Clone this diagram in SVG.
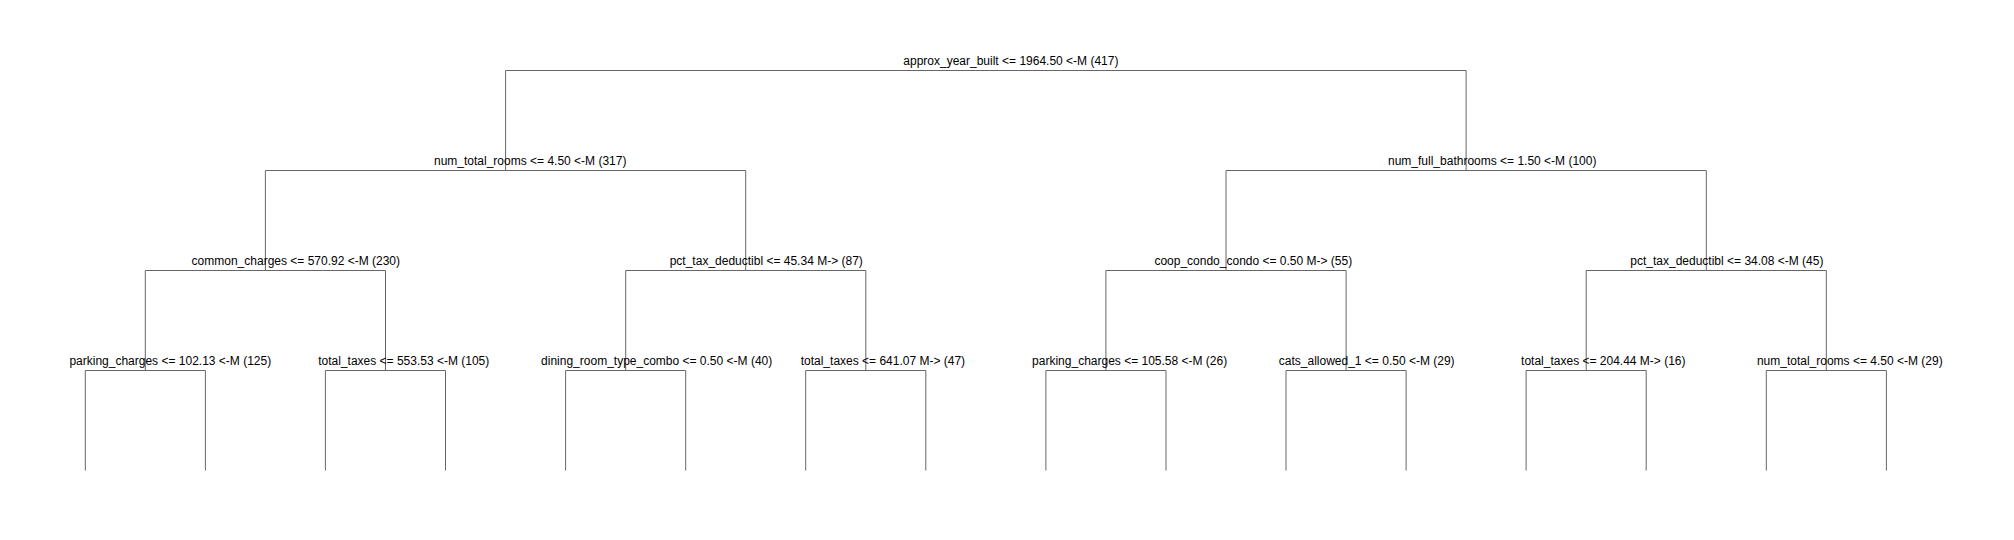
<svg xmlns="http://www.w3.org/2000/svg" width="2014" height="540" viewBox="0 0 2014 540">
<style>
.e{fill:none;stroke:#666;stroke-width:1}
.l{font-family:"Liberation Sans",Arial,sans-serif;font-size:12px;fill:#000}
</style>
<rect width="2014" height="540" fill="#fff"/>
<g id="connectors" class="e">
<path d="M505.6,70.5H1466.1"/>
<path d="M505.6,70.5V170.5M265.4,170.5H745.7"/>
<path d="M1466.1,70.5V170.5M1226,170.5H1706.3"/>
<path d="M265.4,170.5V270.5M145.3,270.5H385.5"/>
<path d="M745.7,170.5V270.5M625.7,270.5H865.8"/>
<path d="M1226,170.5V270.5M1105.9,270.5H1346.1"/>
<path d="M1706.3,170.5V270.5M1586.2,270.5H1826.3"/>
<path d="M145.3,270.5V370.5M85.3,370.5H205.4"/>
<path d="M385.5,270.5V370.5M325.4,370.5H445.5"/>
<path d="M625.7,270.5V370.5M565.6,370.5H685.7"/>
<path d="M865.8,270.5V370.5M805.7,370.5H925.8"/>
<path d="M1105.9,270.5V370.5M1045.9,370.5H1166"/>
<path d="M1346.1,270.5V370.5M1286,370.5H1406.1"/>
<path d="M1586.2,270.5V370.5M1526.1,370.5H1646.2"/>
<path d="M1826.3,270.5V370.5M1766.3,370.5H1886.4"/>
<path d="M85.3,370.5V470.5M205.4,370.5V470.5M325.4,370.5V470.5M445.5,370.5V470.5M565.6,370.5V470.5M685.7,370.5V470.5M805.7,370.5V470.5M925.8,370.5V470.5M1045.9,370.5V470.5M1166,370.5V470.5M1286,370.5V470.5M1406.1,370.5V470.5M1526.1,370.5V470.5M1646.2,370.5V470.5M1766.3,370.5V470.5M1886.4,370.5V470.5"/>
</g>
<g id="n1"><text class="l" x="903.3" y="64.5">approx_year_built &lt;= 1964.50 &lt;-M (417)</text></g>
<g id="n2"><text class="l" x="434" y="164.5">num_total_rooms &lt;= 4.50 &lt;-M (317)</text></g>
<g id="n3"><text class="l" x="1388" y="164.5">num_full_bathrooms &lt;= 1.50 &lt;-M (100)</text></g>
<g id="n4"><text class="l" x="191.6" y="264.5">common_charges &lt;= 570.92 &lt;-M (230)</text></g>
<g id="n5"><text class="l" x="669.7" y="264.5">pct_tax_deductibl &lt;= 45.34 M-&gt; (87)</text></g>
<g id="n6"><text class="l" x="1154.4" y="264.5">coop_condo_condo &lt;= 0.50 M-&gt; (55)</text></g>
<g id="n7"><text class="l" x="1630.3" y="264.5">pct_tax_deductibl &lt;= 34.08 &lt;-M (45)</text></g>
<g id="n8"><text class="l" x="69.4" y="364.5">parking_charges &lt;= 102.13 &lt;-M (125)</text></g>
<g id="n9"><text class="l" x="318.2" y="364.5">total_taxes &lt;= 553.53 &lt;-M (105)</text></g>
<g id="n10"><text class="l" x="541.1" y="364.5">dining_room_type_combo &lt;= 0.50 &lt;-M (40)</text></g>
<g id="n11"><text class="l" x="800.7" y="364.5">total_taxes &lt;= 641.07 M-&gt; (47)</text></g>
<g id="n12"><text class="l" x="1032.1" y="364.5">parking_charges &lt;= 105.58 &lt;-M (26)</text></g>
<g id="n13"><text class="l" x="1278.8" y="364.5">cats_allowed_1 &lt;= 0.50 &lt;-M (29)</text></g>
<g id="n14"><text class="l" x="1521.1" y="364.5">total_taxes &lt;= 204.44 M-&gt; (16)</text></g>
<g id="n15"><text class="l" x="1756.9" y="364.5">num_total_rooms &lt;= 4.50 &lt;-M (29)</text></g>
</svg>
